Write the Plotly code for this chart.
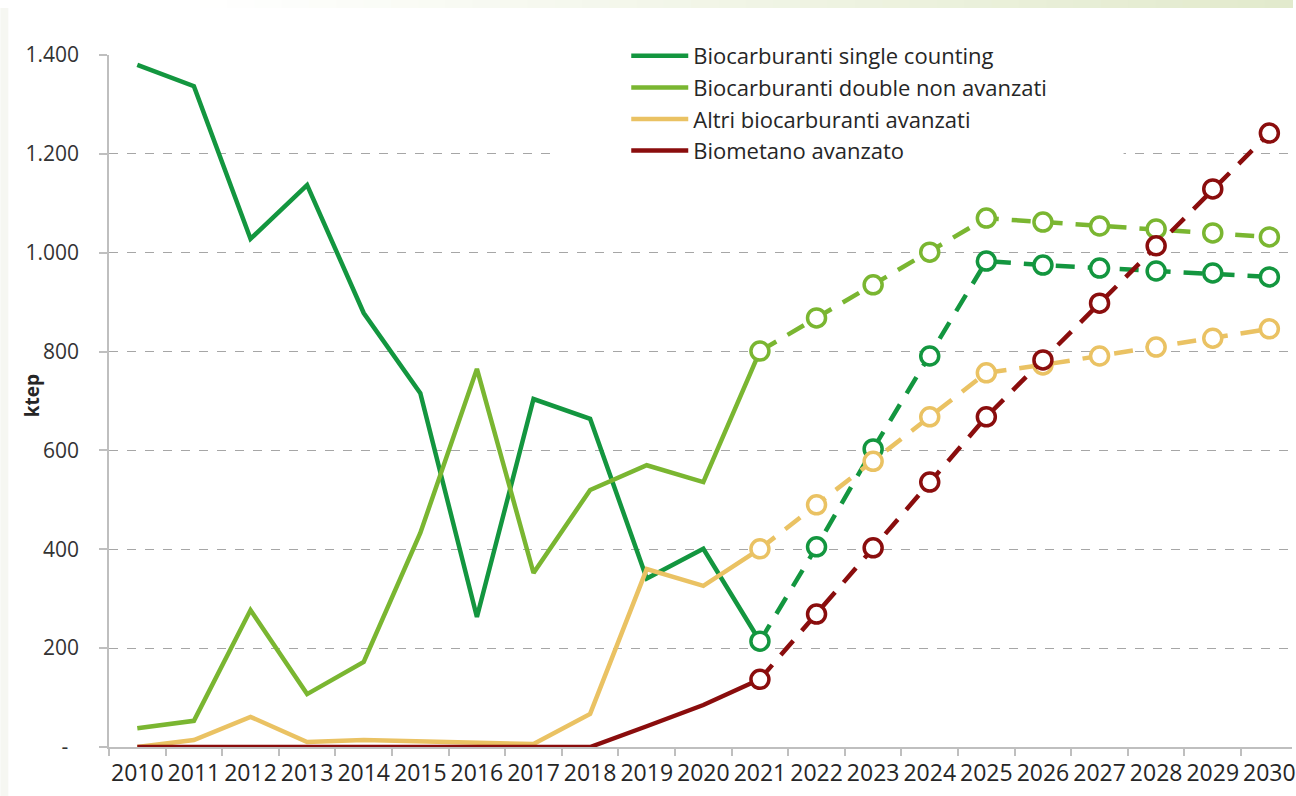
import plotly.graph_objects as go

years = [str(y) for y in range(2010, 2031)]

series_names = [
    "Biocarburanti single counting",
    "Biocarburanti double non avanzati",
    "Altri biocarburanti avanzati",
    "Biometano avanzato",
]
single_counting = [1380, 1337, 1028, 1137, 878, 716, 263, 704, 664, 341, 401, 214,
                   405, 603, 791, 983, 975, 969, 963, 959, 951]
double_non_avanzati = [38, 53, 277, 107, 172, 433, 765, 352, 520, 570, 536, 801,
                       868, 935, 1001, 1070, 1062, 1054, 1048, 1040, 1032]
altri_avanzati = [0, 14, 61, 10, 14, 12, 10, 6, 67, 360, 326, 401,
                  490, 578, 668, 757, 773, 791, 809, 827, 846]
biometano = [0, 0, 0, 0, 0, 0, 0, 0, 0, 42, 85, 137,
             269, 403, 536, 668, 783, 898, 1014, 1129, 1242]
colors = ["#13963f", "#7ab631", "#eac263", "#8a0d0d"]

y_tickvals = [0, 200, 400, 600, 800, 1000, 1200, 1400]
y_ticktext = ["-\u00a0\u00a0", "200", "400", "600", "800", "1.000", "1.200", "1.400"]

all_series = [single_counting, double_non_avanzati, altri_avanzati, biometano]
split = years.index("2021")

W, H = 1296, 796
L, T, B = 109, 55, 49
PW, PH = W - L, H - T - B


def px(x):
    return (x - L) / PW


def py(y):
    return (H - B - y) / PH


FONT = "'Open Sans', Lato, sans-serif"

fig = go.Figure()
for i, (name, vals, col) in enumerate(zip(series_names, all_series, colors)):
    fig.add_trace(go.Scatter(
        x=years[:split + 1], y=vals[:split + 1], mode="lines", name=name,
        line=dict(color=col, width=4.5), legendgroup=f"g{i}",
        hoverinfo="x+y"))
    fig.add_trace(go.Scatter(
        x=years[split:], y=vals[split:], mode="lines+markers", name=name,
        line=dict(color=col, width=4.5, dash="19px,13px"),
        marker=dict(symbol="circle", size=18, color="white",
                    line=dict(color=col, width=3.5)),
        legendgroup=f"g{i}", showlegend=False, hoverinfo="x+y"))

shapes = []
# white box behind legend (interrupts gridlines; no data falls in this area)
shapes.append(dict(type="rect", xref="paper", yref="paper", layer="above",
                   x0=px(558), x1=px(1127), y0=py(168), y1=py(36),
                   fillcolor="white", line=dict(width=0)))
# top gradient strip
n = 40
x_start = 200
c0 = (255, 255, 255)
c1 = (226, 234, 204)
for k in range(n):
    xa = x_start + (W - x_start) * k / n
    xb = x_start + (W - x_start) * (k + 1) / n + 1
    t = (k + 0.5) / n
    c = tuple(int(round(c0[j] + (c1[j] - c0[j]) * t)) for j in range(3))
    shapes.append(dict(type="rect", xref="paper", yref="paper", layer="below",
                       x0=px(xa), x1=px(xb), y0=py(8), y1=py(0),
                       fillcolor="rgb(%d,%d,%d)" % c, line=dict(width=0)))
# faint left strip
shapes.append(dict(type="rect", xref="paper", yref="paper", layer="below",
                   x0=px(0), x1=px(8), y0=py(H), y1=py(8),
                   fillcolor="#f6f7f2", line=dict(width=0)))

fig.update_layout(
    width=W, height=H,
    margin=dict(l=L, r=0, t=T, b=B),
    paper_bgcolor="white", plot_bgcolor="white",
    font=dict(family=FONT, color="#333333", size=21),
    showlegend=True,
    legend=dict(x=px(628), y=py(35), xanchor="left", yanchor="top",
                bgcolor="rgba(0,0,0,0)", borderwidth=0,
                font=dict(size=22, color="#262626", family=FONT),
                traceorder="grouped", tracegroupgap=0, itemwidth=57),
    shapes=shapes,
    annotations=[dict(text="<b>ktep</b>", xref="paper", yref="paper",
                      x=px(32), y=py(396), showarrow=False, textangle=-90,
                      font=dict(size=19, color="#262626", family=FONT),
                      xanchor="center", yanchor="middle")],
    xaxis=dict(type="category", range=[-0.5, 20.4], tickson="boundaries",
               ticks="outside", ticklen=7, tickcolor="#bfbfbf", tickwidth=1.5,
               showline=True, linecolor="#bfbfbf", linewidth=1.5,
               showgrid=False, tickangle=0, ticklabelstandoff=5,
               tickfont=dict(size=23, color="#262626", family=FONT)),
    yaxis=dict(range=[0, 1400], tickvals=y_tickvals, ticktext=y_ticktext,
               ticks="outside", ticklen=8, tickcolor="#bfbfbf", tickwidth=1.5,
               showline=True, linecolor="#bfbfbf", linewidth=1.5,
               showgrid=True, gridcolor="#a6a6a6", griddash="dash", gridwidth=1,
               zeroline=False, ticklabelstandoff=16,
               tickfont=dict(size=21, color="#333333", family=FONT)),
)

fig.write_html("out.html")
